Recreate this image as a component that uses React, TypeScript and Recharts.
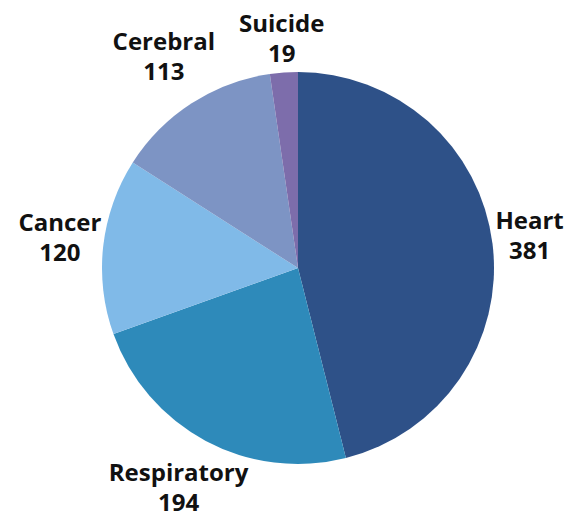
import { Cell, Pie, PieChart } from 'recharts';

const causes = ['Heart', 'Respiratory', 'Cancer', 'Cerebral', 'Suicide'];
const deaths = [381, 194, 120, 113, 19];
const colors = ['#2E5188', '#2E8ABA', '#80BAE8', '#7D94C4', '#7D6DAB'];

const data = causes.map((name, i) => ({ name, value: deaths[i] }));

const RAD = Math.PI / 180;

// push each two-line label out so its box just clears the pie edge
function renderLabel(props: any) {
  const { cx, cy, midAngle, outerRadius, name, value } = props;
  const cos = Math.cos(-midAngle * RAD);
  const sin = Math.sin(-midAngle * RAD);
  const w = String(name).length * 13;
  const h = 50;
  const r = outerRadius + 2 + Math.abs(cos) * (w / 2) + Math.abs(sin) * (h / 2);
  const x = cx + r * cos;
  const y = cy + r * sin - 4;
  return (
    <text
      x={x}
      y={y}
      textAnchor="middle"
      fill="#111"
      fontFamily="'Open Sans', sans-serif"
      fontWeight={700}
      fontSize={24}
    >
      <tspan x={x} y={y - 16} dominantBaseline="central">
        {name}
      </tspan>
      <tspan x={x} y={y + 14} dominantBaseline="central">
        {value}
      </tspan>
    </text>
  );
}

export default function App() {
  return (
    <div style={{ position: 'absolute', left: 0, top: 0, width: 570, height: 519, background: '#fff' }}>
      <PieChart width={570} height={519}>
        <Pie
          data={data}
          dataKey="value"
          nameKey="name"
          cx={293}
          cy={263}
          outerRadius={196}
          startAngle={90}
          endAngle={-270}
          label={renderLabel}
          labelLine={false}
          stroke="none"
          isAnimationActive={false}
        >
          {data.map((d, i) => (
            <Cell key={d.name} fill={colors[i]} />
          ))}
        </Pie>
      </PieChart>
    </div>
  );
}
